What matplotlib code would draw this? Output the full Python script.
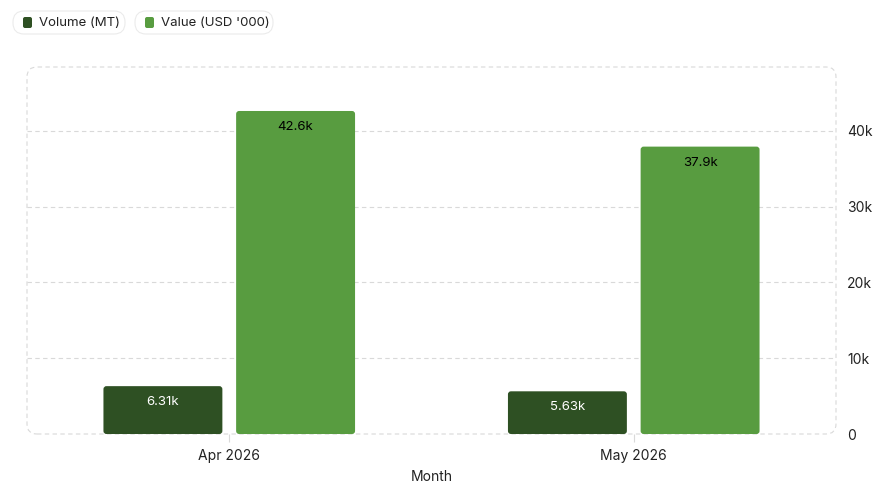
import numpy as np
import matplotlib
matplotlib.use("Agg")
import matplotlib.pyplot as plt
from matplotlib.patches import FancyBboxPatch

months = ["Apr 2026", "May 2026"]
volume_mt = [6310, 5630]
value_usd = [42600, 37900]
volume_labels = ["6.31k", "5.63k"]
value_labels = ["42.6k", "37.9k"]
y_ticks = [0, 10000, 20000, 30000, 40000]
y_tick_labels = ["0", "10k", "20k", "30k", "40k"]

DARK = "#2e5023"
LIGHT = "#589c40"
GRID = "#d9d9d9"

plt.rcParams["font.family"] = ["Inter", "DejaVu Sans"]

fig = plt.figure(figsize=(8.89, 4.97), dpi=100)
W, H = 889, 497
ax = fig.add_axes([27 / W, 1 - 434 / H, 809 / W, 367 / H])
ymax = 48400
ax.set_xlim(-0.5, 1.5)
ax.set_ylim(0, ymax)

x = np.arange(len(months))
bw = 0.294
off = 0.164
b1 = ax.bar(x - off, volume_mt, bw, color=DARK)
b2 = ax.bar(x + off, value_usd, bw, color=LIGHT)

# swap plain bars for rounded ones
xpp = 2.0 / 809
ypp = ymax / 367
for bars in (b1, b2):
    for p in bars:
        p.set_visible(False)
        r = FancyBboxPatch((p.get_x(), 0), p.get_width(), p.get_height(),
                           boxstyle=f"round,pad=0,rounding_size={3 * xpp}",
                           mutation_aspect=ypp / xpp, fc=p.get_facecolor(),
                           ec="none", zorder=3)
        ax.add_patch(r)

for xi, v, lab in zip(x - off, volume_mt, volume_labels):
    ax.text(xi, v - 16 * ypp, lab, ha="center", va="center", color="white",
            fontsize=9.5, zorder=4)
for xi, v, lab in zip(x + off, value_usd, value_labels):
    ax.text(xi, v - 16 * ypp, lab, ha="center", va="center", color="black",
            fontsize=9.5, zorder=4)

for yt in y_ticks[1:]:
    ax.axhline(yt, color=GRID, lw=0.8, ls=(0, (4, 3)), zorder=1)

for s in ax.spines.values():
    s.set_visible(False)
frame = FancyBboxPatch((0, 0), 1, 1, boxstyle=f"round,pad=0,rounding_size={10 / 809}",
                       mutation_aspect=809 / 367, transform=ax.transAxes,
                       fc="none", ec=GRID, lw=0.8, ls=(0, (4, 3)), clip_on=False, zorder=1)
ax.add_patch(frame)

ax.yaxis.tick_right()
ax.set_yticks(y_ticks)
ax.set_yticklabels(y_tick_labels)
ax.tick_params(axis="y", length=0, pad=8, labelsize=10, colors="#222222")
ax.set_xticks(x)
ax.set_xticklabels(months)
ax.tick_params(axis="x", length=6, width=0.8, color=GRID, pad=5, labelsize=10,
               labelcolor="#222222")
ax.set_xlabel("Month", fontsize=10, color="#222222", labelpad=5)

# legend pills
def pill(x0, x1, color, label):
    yc = 1 - 22.5 / H
    box = FancyBboxPatch((x0 / W, 1 - 34 / H), (x1 - x0) / W, 23 / H,
                         boxstyle=f"round,pad=0,rounding_size={11 / W}",
                         mutation_aspect=W / H, transform=fig.transFigure,
                         fc="white", ec="#ebebeb", lw=0.8)
    fig.add_artist(box)
    sq = FancyBboxPatch(((x0 + 10) / W, yc - 5.5 / H), 9 / W, 11 / H,
                        boxstyle=f"round,pad=0,rounding_size={2 / W}",
                        mutation_aspect=W / H, transform=fig.transFigure,
                        fc=color, ec="none")
    fig.add_artist(sq)
    fig.text((x0 + 26) / W, yc, label, ha="left", va="center", fontsize=9.5,
             color="#222222")

pill(13, 125, DARK, "Volume (MT)")
pill(135, 273, LIGHT, "Value (USD '000)")

fig.savefig("out.png", dpi=100)
